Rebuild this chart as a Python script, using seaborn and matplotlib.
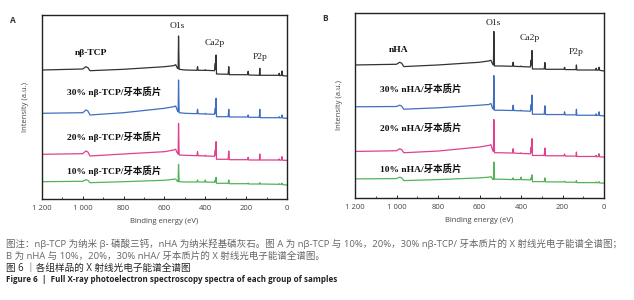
import pandas as pd
import seaborn as sns
import matplotlib.pyplot as plt
import matplotlib.ticker as mticker

# binding energies (eV) of the read-off points, shared by all spectra
energy = [1200, 1000, 985, 975, 965, 800, 600, 555, 545, 538, 533, 531, 528, 500,
          441, 438, 435, 402, 400, 398, 355, 351, 349, 347, 345, 288, 285, 282,
          193, 190, 187, 135, 133, 131, 41, 38, 35, 27, 24, 21, 0]

# panel A (offset intensities, a.u.)
a_pure = [129.0, 130.0, 132.3, 131.3, 128.3, 129.7, 132.3, 133.3, 134.3, 131.3, 130.3, 163.0, 129.7, 129.0,
          128.7, 132.3, 128.7, 128.7, 129.3, 128.7, 128.3, 135.7, 129.7, 144.0, 125.0, 124.7, 132.3, 124.3,
          124.3, 127.7, 124.0, 123.7, 130.7, 123.7, 123.7, 125.7, 123.3, 123.7, 128.0, 123.3, 123.0]
a_30 = [85.7, 86.3, 89.0, 88.0, 84.0, 86.3, 90.7, 92.3, 93.0, 89.0, 87.3, 119.0, 86.3, 85.7,
        85.3, 89.7, 85.3, 85.0, 85.7, 85.0, 84.7, 90.7, 85.7, 100.7, 82.3, 82.3, 89.7, 82.0,
        82.0, 84.0, 81.7, 81.7, 89.7, 81.3, 81.3, 82.3, 81.0, 81.3, 84.0, 81.0, 80.7]
a_20 = [44.7, 45.3, 48.0, 47.0, 43.0, 45.0, 47.3, 49.0, 49.7, 46.3, 45.0, 75.7, 44.0, 43.7,
        43.3, 47.3, 43.3, 43.0, 43.7, 43.0, 42.7, 49.0, 44.0, 57.3, 39.7, 39.7, 48.0, 39.3,
        39.3, 41.7, 39.0, 39.0, 45.0, 39.0, 39.0, 40.0, 38.7, 39.0, 42.3, 38.7, 38.7]
a_10 = [17.3, 17.7, 19.3, 18.7, 16.3, 17.3, 18.7, 19.7, 20.0, 18.0, 17.3, 34.7, 17.3, 17.0,
        17.0, 19.0, 17.0, 17.0, 19.0, 17.0, 16.7, 19.0, 17.0, 21.7, 15.7, 15.7, 19.0, 15.3,
        15.3, 16.0, 15.0, 15.0, 16.3, 15.0, 14.7, 15.3, 14.7, 14.7, 15.7, 14.3, 14.0]

# panel B
b_pure = [132.3, 133.0, 135.0, 134.0, 130.7, 132.3, 135.0, 136.3, 137.0, 133.7, 132.3, 165.7, 131.3, 131.3,
          131.0, 135.0, 131.0, 130.7, 131.3, 130.7, 130.3, 137.3, 132.3, 146.7, 128.3, 128.3, 134.7, 128.0,
          128.0, 130.0, 127.7, 127.7, 132.3, 127.3, 127.3, 129.0, 127.0, 127.3, 130.0, 127.0, 126.3]
b_30 = [90.7, 91.0, 92.3, 91.3, 88.3, 89.7, 92.3, 93.0, 94.0, 89.7, 88.3, 121.7, 87.3, 87.3,
        87.0, 92.3, 87.0, 86.7, 87.3, 86.7, 86.3, 93.0, 87.7, 102.3, 83.3, 83.3, 91.7, 83.0,
        83.0, 85.7, 82.7, 82.7, 88.3, 82.3, 82.3, 83.7, 82.0, 82.3, 85.7, 82.0, 81.7]
b_20 = [46.3, 47.0, 49.0, 48.0, 45.0, 46.7, 50.7, 52.3, 53.0, 48.3, 46.3, 78.0, 45.0, 45.0,
        44.7, 49.0, 44.7, 44.3, 45.0, 44.3, 44.0, 50.7, 45.7, 59.0, 42.3, 42.3, 49.7, 42.0,
        42.0, 43.7, 41.7, 41.7, 45.7, 41.3, 41.3, 42.3, 41.0, 41.3, 44.0, 41.0, 40.7]
b_10 = [19.0, 19.3, 20.7, 20.0, 17.3, 18.3, 20.0, 20.7, 21.3, 19.0, 18.3, 35.7, 18.7, 18.7,
        18.3, 20.0, 18.3, 18.3, 20.7, 18.3, 18.0, 20.0, 18.3, 23.0, 16.3, 16.3, 20.0, 16.0,
        16.0, 16.7, 15.7, 15.7, 17.3, 15.3, 15.3, 16.0, 15.0, 15.3, 16.3, 15.0, 14.7]

a_labels = ['nβ-TCP', '30% nβ-TCP/牙本质片', '20% nβ-TCP/牙本质片', '10% nβ-TCP/牙本质片']
b_labels = ['nHA', '30% nHA/牙本质片', '20% nHA/牙本质片', '10% nHA/牙本质片']
colors = ['#333333', '#3f6fc0', '#e0408c', '#52b35a']
xticks = [1200, 1000, 800, 600, 400, 200, 0]

sns.set_theme(style='ticks')
plt.rcParams['font.family'] = ['Open Sans', 'Noto Sans CJK SC']

fig = plt.figure(figsize=(6.34, 3.0), dpi=100)
ax_a = fig.add_axes([0.0662, 0.3367, 0.3864, 0.6133])
ax_b = fig.add_axes([0.56, 0.34, 0.3927, 0.6167])

label_font = ['Liberation Serif', 'Noto Sans CJK SC']

def draw(ax, series, labels, label_pos, peak_pos, letter):
    df = pd.concat([pd.DataFrame({'E': energy, 'I': s, 'sample': lab})
                    for s, lab in zip(series, labels)], ignore_index=True)
    sns.lineplot(data=df, x='E', y='I', hue='sample', palette=dict(zip(labels, colors)),
                 sort=False, estimator=None, lw=0.9, legend=False, ax=ax)
    ax.set_xlim(1200, 0)
    ax.set_ylim(0, 184)
    ax.set_yticks([])
    ax.set_xticks(xticks)
    ax.xaxis.set_major_formatter(mticker.FuncFormatter(lambda v, p: f'{int(v):,}'.replace(',', ' ')))
    ax.xaxis.set_minor_locator(mticker.MultipleLocator(100))
    ax.tick_params(axis='x', which='major', direction='in', length=2.5, width=0.7,
                   labelsize=5.5, labelcolor='#444444', pad=4.5)
    ax.tick_params(axis='x', which='minor', direction='in', length=1.5, width=0.6)
    for sp in ax.spines.values():
        sp.set_visible(True)
        sp.set_linewidth(1.0)
        sp.set_color('#222222')
    ax.set_xlabel('Binding energy (eV)', fontsize=5.5, color='#444444', labelpad=4)
    ax.set_ylabel('Intensity (a.u.)', fontsize=5.5, color='#444444', labelpad=9)
    for lab, (x, y) in zip(labels, label_pos):
        ax.text(x, y, lab, fontsize=6.8, fontweight='bold', family=label_font,
                ha='left', va='center', color='#111111')
    for name, (x, y) in zip(['O1s', 'Ca2p', 'P2p'], peak_pos):
        ax.text(x, y, name, fontsize=6.8, family=label_font, ha='center', va='center', color='#222222')
    ax.text(-0.12, 0.97, letter, transform=ax.transAxes, fontsize=6, fontweight='bold',
            ha='center', va='center', color='#333333')

draw(ax_a, [a_pure, a_30, a_20, a_10], a_labels,
     [(1038, 146), (1078, 107), (1078, 62), (1078, 28)],
     [(539, 173), (353, 156), (132, 142)], 'A')
draw(ax_b, [b_pure, b_30, b_20, b_10], b_labels,
     [(1036, 147), (1080, 108), (1080, 70), (1080, 29)],
     [(535, 174), (357, 159), (135, 145)], 'B')

cap_font = ['Open Sans', 'Noto Sans CJK SC']
fig.text(0.009, 1 - 244 / 300,
         '图注：nβ-TCP 为纳米 β- 磷酸三钙，nHA 为纳米羟基磷灰石。图 A 为 nβ-TCP 与 10%，20%，30% nβ-TCP/ 牙本质片的 X 射线光电子能谱全谱图；',
         fontsize=6.8, color='#666666', family=cap_font, va='center')
fig.text(0.009, 1 - 256 / 300, 'B 为 nHA 与 10%，20%，30% nHA/ 牙本质片的 X 射线光电子能谱全谱图。',
         fontsize=6.8, color='#666666', family=cap_font, va='center')
fig.text(0.009, 1 - 268 / 300, '图 6 ｜各组样品的 X 射线光电子能谱全谱图',
         fontsize=6.9, color='#222222', family=cap_font, va='center')
fig.text(0.009, 1 - 280 / 300, 'Figure 6  |  Full X-ray photoelectron spectroscopy spectra of each group of samples',
         fontsize=5.8, color='#222222', fontweight='bold', family=cap_font, va='center')

fig.savefig('out.png', dpi=100, facecolor='white')
